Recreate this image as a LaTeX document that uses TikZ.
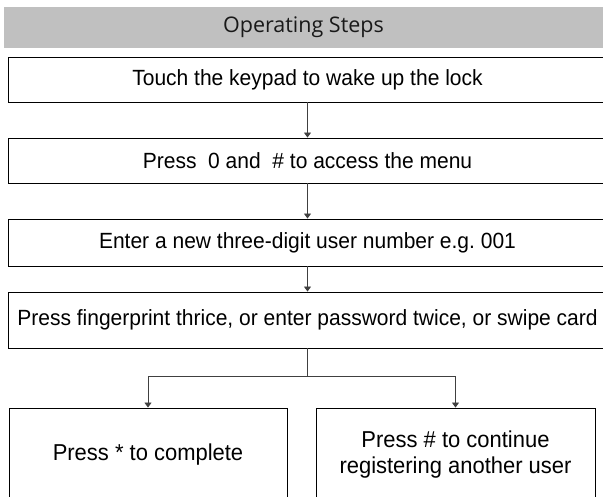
\documentclass[tikz,border=0pt]{standalone}
\usepackage{fontspec}
\setmainfont{Liberation Sans}[FakeStretch=0.955]
\newfontfamily\headfont{Open Sans}
\usetikzlibrary{arrows.meta,positioning}
\definecolor{headgray}{RGB}{192,192,192}

\begin{document}
\begin{tikzpicture}[x=1pt, y=-1pt,
    stepbox/.style={draw, line width=0.9pt, rectangle, minimum width=598pt, minimum height=45pt, inner sep=0pt, font=\fontsize{22}{26}\selectfont},
    endbox/.style={draw, line width=0.9pt, rectangle, minimum width=278pt, minimum height=94pt, align=center, font=\fontsize{23}{26}\selectfont},
    flow/.style={-{Triangle[width=7pt,length=5pt]}, draw=black!75, line width=0.8pt}
]
\useasboundingbox (0,0) rectangle (603,497);
\clip (0,0) rectangle (603,497);

% Title bar
\node[fill=headgray, minimum width=599pt, minimum height=41pt, inner sep=0pt, font=\headfont\fontsize{21.5}{24}\selectfont, text=black!90] (title) at (303.5,27.5) {Operating Steps};

% Steps
\node[stepbox] (wake) at (307.5,79.5) {Touch the keypad to wake up the lock};
\node[stepbox] (menu) at (307.5,160.5) {Press~~0 and~~\# to access the menu};
\node[stepbox, minimum height=47pt] (number) at (307.5,242.5) {Enter a new three-digit user number e.g.\ 001};
\node[stepbox, minimum height=56pt] (enroll) at (307.5,320) {Press fingerprint thrice, or enter password twice, or swipe card};

% Last choice
\node[endbox] (done) at (148,455) {Press * to complete};
\node[endbox, minimum width=279pt] (again) at (455.5,455) {Press \# to continue\\registering another user};

% Arrows
\draw[flow] (wake) -- (menu);
\draw[flow] (menu) -- (number);
\draw[flow] (number) -- (enroll);
\coordinate (split) at (307.5,376);
\draw[draw=black!75, line width=0.8pt] (enroll) -- (split);
\draw[flow] (split) -| (done);
\draw[flow] (split) -| (again);

\end{tikzpicture}
\end{document}
